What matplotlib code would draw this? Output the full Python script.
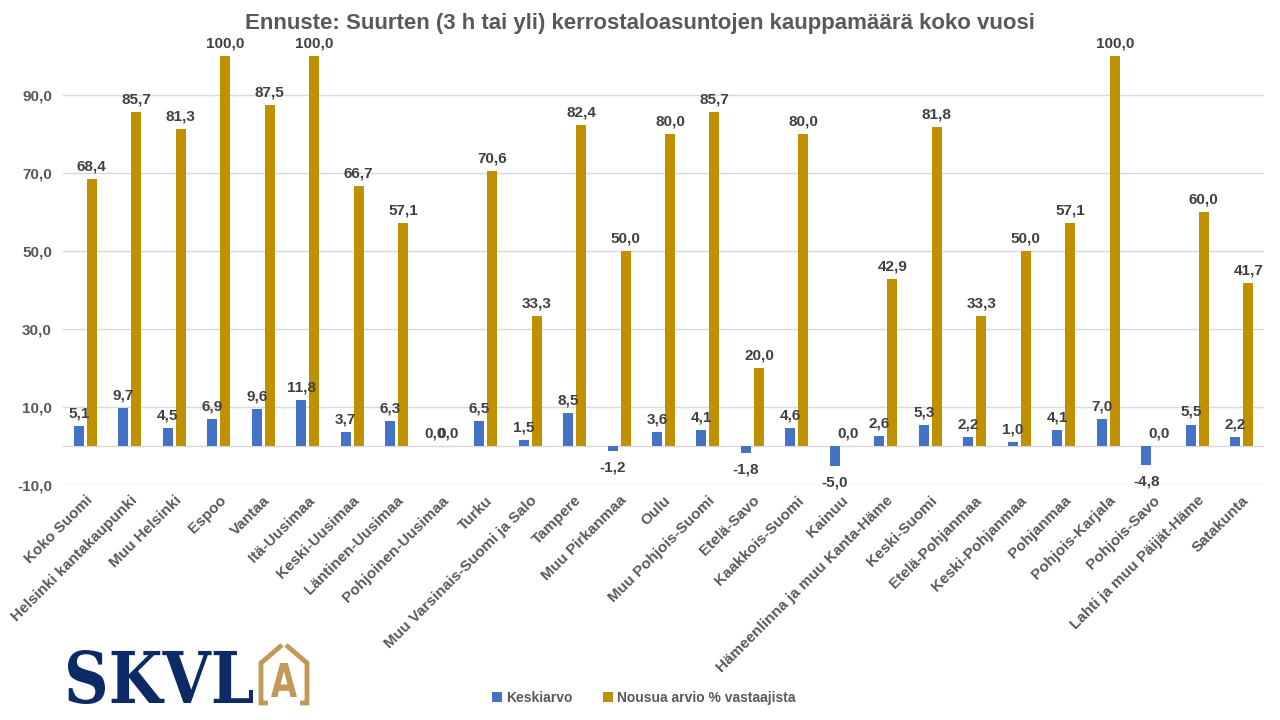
import numpy as np
import matplotlib
matplotlib.use('Agg')
import matplotlib.pyplot as plt
from matplotlib.ticker import FixedLocator, FuncFormatter
from matplotlib.textpath import TextPath
from matplotlib.patches import PathPatch
from matplotlib.font_manager import FontProperties
from matplotlib.transforms import Affine2D

plt.rcParams['font.family'] = ['Liberation Sans', 'DejaVu Sans']

regions = ['Koko Suomi', 'Helsinki kantakaupunki', 'Muu Helsinki', 'Espoo', 'Vantaa',
           'Itä-Uusimaa', 'Keski-Uusimaa', 'Läntinen-Uusimaa', 'Pohjoinen-Uusimaa', 'Turku',
           'Muu Varsinais-Suomi ja Salo', 'Tampere', 'Muu Pirkanmaa', 'Oulu',
           'Muu Pohjois-Suomi', 'Etelä-Savo', 'Kaakkois-Suomi', 'Kainuu',
           'Hämeenlinna ja muu Kanta-Häme', 'Keski-Suomi', 'Etelä-Pohjanmaa',
           'Keski-Pohjanmaa', 'Pohjanmaa', 'Pohjois-Karjala', 'Pohjois-Savo',
           'Lahti ja muu Päijät-Häme', 'Satakunta']
keskiarvo = [5.1, 9.7, 4.5, 6.9, 9.6, 11.8, 3.7, 6.3, 0.0, 6.5, 1.5, 8.5, -1.2, 3.6,
             4.1, -1.8, 4.6, -5.0, 2.6, 5.3, 2.2, 1.0, 4.1, 7.0, -4.8, 5.5, 2.2]
nousua = [68.4, 85.7, 81.3, 100.0, 87.5, 100.0, 66.7, 57.1, 0.0, 70.6, 33.3, 82.4, 50.0,
          80.0, 85.7, 20.0, 80.0, 0.0, 42.9, 81.8, 33.3, 50.0, 57.1, 100.0, 0.0, 60.0, 41.7]
title = 'Ennuste: Suurten (3 h tai yli) kerrostaloasuntojen kauppamäärä koko vuosi'

blue = '#4472C4'
gold = '#BF9000'
txt = '#404040'
grey = '#595959'

fig = plt.figure(figsize=(12.8, 7.2), dpi=100)
ax = fig.add_axes([63 / 1280, 1 - 485 / 720, 1201 / 1280, 429 / 720])

x = np.arange(len(regions))
w = 0.225
off = 0.146
ax.bar(x - off, keskiarvo, w, color=blue, label='Keskiarvo', zorder=3)
ax.bar(x + off, nousua, w, color=gold, label='Nousua arvio % vastaajista', zorder=3)

fmt = lambda v: f'{v:.1f}'.replace('.', ',')
for xi, v in zip(x - off, keskiarvo):
    if v < 0:
        ax.annotate(fmt(v), (xi, v), xytext=(0, -7), textcoords='offset points',
                    ha='center', va='top', fontsize=11, fontweight='bold', color=txt)
    else:
        ax.annotate(fmt(v), (xi, v), xytext=(0, 4), textcoords='offset points',
                    ha='center', va='bottom', fontsize=11, fontweight='bold', color=txt)
for xi, v in zip(x + off, nousua):
    ax.annotate(fmt(v), (xi, v), xytext=(0, 4), textcoords='offset points',
                ha='center', va='bottom', fontsize=11, fontweight='bold', color=txt)

ax.set_xlim(-0.5, len(regions) - 0.5)
ax.set_ylim(-10, 100)
ax.yaxis.set_major_locator(FixedLocator([-10, 10, 30, 50, 70, 90]))
ax.yaxis.set_major_formatter(FuncFormatter(lambda v, p: fmt(v)))
ax.grid(axis='y', color='#D9D9D9', lw=1, zorder=0)
ax.axhline(0, color='#D9D9D9', lw=1, zorder=1)
for s in ax.spines.values():
    s.set_visible(False)
ax.tick_params(axis='both', length=0, colors=grey, labelsize=11)
ax.tick_params(axis='y', pad=8)
for lab in ax.get_yticklabels():
    lab.set_fontweight('bold')
ax.set_xticks(x)
ax.set_xticklabels(regions, rotation=45, ha='right', rotation_mode='anchor',
                   fontweight='bold', fontsize=11, color=grey)
ax.tick_params(axis='x', pad=6)

fig.text(0.5, 0.968, title, ha='center', va='center', fontsize=16,
         fontweight='bold', color=grey)

leg = fig.legend(loc='center', bbox_to_anchor=(0.503, 0.031), ncol=2, frameon=False,
                 fontsize=10, handlelength=0.7, handleheight=0.7, columnspacing=2.2,
                 handletextpad=0.3)
for t in leg.get_texts():
    t.set_color(grey)
    t.set_fontweight('bold')

# logo (axes in pixel units, y measured up from the bottom of the figure)
lg = fig.add_axes([0, 0, 330 / 1280, 100 / 720])
lg.set_xlim(0, 330)
lg.set_ylim(0, 100)
lg.axis('off')


def fit_text(s, box, color, family, weight='bold'):
    tp = TextPath((0, 0), s, size=100, prop=FontProperties(family=family, weight=weight))
    ext = tp.get_extents()
    x0, y0, x1, y1 = box
    tr = (Affine2D().translate(-ext.x0, -ext.y0)
          .scale((x1 - x0) / ext.width, (y1 - y0) / ext.height).translate(x0, y0))
    lg.add_patch(PathPatch(tr.transform_path(tp), color=color, lw=0))


fit_text('SKVL', (68, 16, 253, 70), '#0B2A66', 'DejaVu Serif')
tan = '#C09A5B'
lg.plot([268, 261, 261, 282], [17, 17, 57, 75], color=tan, lw=3.5,
        solid_joinstyle='miter', solid_capstyle='butt')
lg.plot([300, 307, 307, 286], [17, 17, 57, 75], color=tan, lw=3.5,
        solid_joinstyle='miter', solid_capstyle='butt')
fit_text('A', (271, 23, 297, 57), tan, 'DejaVu Sans')

fig.savefig('out.png', dpi=100)
